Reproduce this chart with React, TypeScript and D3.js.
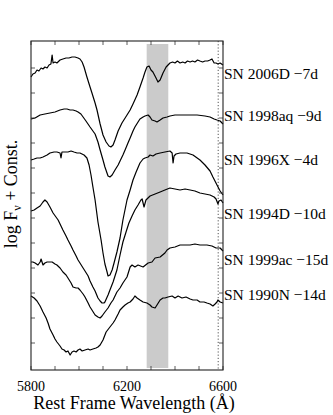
import React from "react";
import * as d3 from "d3";

const W = 333;
const H = 415;

const xTicksMinor = [5800, 5900, 6000, 6100, 6200, 6300, 6400, 6500, 6600];
const xTickLabels = [5800, 6200, 6600];
const yTicks = [0.25, 0.5, 0.75, 1.0, 1.25, 1.5, 1.75, 2.0, 2.25, 2.5, 2.75, 3.0];

const bandRange = [6282, 6372];
const dottedLine = 6580;

const names = [
  "SN 2006D \u22127d",
  "SN 1998aq \u22129d",
  "SN 1996X \u22124d",
  "SN 1994D \u221210d",
  "SN 1999ac \u221215d",
  "SN 1990N \u221214d",
];
const labelY = [2.94, 2.52, 2.08, 1.54, 1.08, 0.73];

const sn2006D: [number, number][] = [
  [5800, 2.91], [5808, 2.94], [5817, 2.95], [5825, 2.98], [5833, 2.97], [5842, 3.0], [5850, 2.99], [5858, 3.01], [5867, 3.0], [5875, 3.03], [5883, 3.04], [5888, 3.13], [5892, 3.05], [5900, 3.06], [5908, 3.05], [5921, 3.08], [5933, 3.09], [5946, 3.1], [5958, 3.1], [5971, 3.11], [5983, 3.11], [5996, 3.1], [6004, 3.09], [6013, 3.06], [6021, 3.01], [6033, 2.91], [6046, 2.81], [6054, 2.75], [6067, 2.65], [6075, 2.58], [6088, 2.44], [6100, 2.33], [6113, 2.26], [6125, 2.22], [6133, 2.21], [6142, 2.23], [6150, 2.28], [6163, 2.37], [6179, 2.45], [6200, 2.53], [6213, 2.58], [6225, 2.64], [6242, 2.73], [6254, 2.81], [6267, 2.9], [6275, 2.96], [6283, 3.01], [6292, 3.02], [6300, 2.98], [6308, 2.96], [6321, 2.9], [6329, 2.86], [6338, 2.88], [6350, 2.95], [6363, 3.01], [6379, 3.05], [6390, 3.06], [6400, 3.05], [6410, 3.07], [6421, 3.05], [6432, 3.06], [6442, 3.05], [6452, 3.07], [6463, 3.06], [6473, 3.07], [6483, 3.06], [6494, 3.08], [6504, 3.07], [6515, 3.06], [6525, 3.07], [6536, 3.07], [6546, 3.08], [6554, 3.09], [6563, 3.05], [6571, 3.05], [6579, 3.04], [6588, 3.05], [6600, 3.03],
];

const sn1998aq: [number, number][] = [
  [5800, 2.49], [5817, 2.5], [5838, 2.53], [5858, 2.54], [5879, 2.55], [5900, 2.56], [5921, 2.58], [5938, 2.59], [5950, 2.59], [5963, 2.58], [5975, 2.58], [5988, 2.57], [5996, 2.56], [6008, 2.54], [6017, 2.51], [6029, 2.47], [6046, 2.41], [6067, 2.34], [6079, 2.26], [6088, 2.18], [6100, 2.08], [6108, 2.01], [6121, 1.92], [6129, 1.91], [6138, 1.93], [6150, 1.98], [6163, 2.03], [6171, 2.07], [6183, 2.13], [6192, 2.18], [6204, 2.25], [6213, 2.3], [6225, 2.37], [6233, 2.41], [6246, 2.46], [6254, 2.49], [6267, 2.51], [6275, 2.52], [6288, 2.53], [6296, 2.51], [6304, 2.48], [6317, 2.47], [6325, 2.46], [6338, 2.48], [6350, 2.5], [6367, 2.51], [6379, 2.52], [6400, 2.53], [6421, 2.53], [6463, 2.53], [6492, 2.53], [6525, 2.52], [6546, 2.51], [6563, 2.49], [6575, 2.48], [6588, 2.47], [6600, 2.44],
];

const sn1996X: [number, number][] = [
  [5800, 2.08], [5813, 2.09], [5825, 2.1], [5838, 2.1], [5850, 2.11], [5867, 2.13], [5879, 2.15], [5896, 2.16], [5908, 2.16], [5921, 2.15], [5925, 2.1], [5929, 2.16], [5942, 2.16], [5954, 2.16], [5967, 2.17], [5979, 2.16], [5992, 2.15], [6004, 2.15], [6021, 2.13], [6033, 2.1], [6042, 2.03], [6050, 1.93], [6058, 1.81], [6067, 1.68], [6079, 1.46], [6092, 1.28], [6100, 1.15], [6108, 1.04], [6117, 0.96], [6121, 0.92], [6129, 0.93], [6138, 0.98], [6146, 1.05], [6158, 1.16], [6171, 1.3], [6183, 1.48], [6200, 1.68], [6213, 1.78], [6225, 1.88], [6238, 1.96], [6254, 2.05], [6267, 2.09], [6275, 2.1], [6288, 2.11], [6296, 2.13], [6308, 2.12], [6321, 2.14], [6338, 2.15], [6358, 2.16], [6379, 2.17], [6388, 2.15], [6392, 2.05], [6396, 2.12], [6404, 2.14], [6421, 2.15], [6450, 2.15], [6475, 2.13], [6504, 2.08], [6525, 2.03], [6546, 1.97], [6558, 1.91], [6575, 1.83], [6588, 1.77], [6600, 1.73],
];

const sn1994D: [number, number][] = [
  [5800, 1.57], [5813, 1.58], [5825, 1.6], [5838, 1.62], [5850, 1.66], [5858, 1.68], [5867, 1.66], [5879, 1.61], [5892, 1.55], [5904, 1.51], [5913, 1.48], [5925, 1.42], [5933, 1.38], [5946, 1.32], [5954, 1.28], [5967, 1.22], [5975, 1.18], [5988, 1.12], [5996, 1.08], [6004, 1.05], [6017, 1.0], [6025, 0.97], [6038, 0.92], [6046, 0.87], [6058, 0.81], [6067, 0.77], [6079, 0.7], [6088, 0.67], [6096, 0.65], [6104, 0.65], [6108, 0.66], [6121, 0.73], [6129, 0.78], [6142, 0.86], [6158, 0.98], [6171, 1.13], [6183, 1.26], [6196, 1.36], [6208, 1.45], [6221, 1.52], [6233, 1.58], [6246, 1.63], [6258, 1.68], [6263, 1.69], [6271, 1.61], [6279, 1.68], [6296, 1.72], [6317, 1.74], [6338, 1.76], [6358, 1.78], [6379, 1.8], [6400, 1.79], [6421, 1.78], [6442, 1.79], [6463, 1.78], [6483, 1.77], [6504, 1.75], [6525, 1.74], [6546, 1.73], [6563, 1.71], [6571, 1.69], [6579, 1.64], [6583, 1.67], [6592, 1.68], [6600, 1.65],
];

const sn1999ac: [number, number][] = [
  [5800, 1.06], [5808, 1.06], [5817, 1.05], [5829, 1.03], [5838, 1.06], [5842, 1.09], [5850, 1.03], [5858, 1.05], [5867, 1.06], [5879, 1.06], [5888, 1.06], [5900, 1.04], [5908, 1.03], [5921, 1.0], [5933, 0.96], [5946, 0.93], [5954, 0.9], [5967, 0.85], [5975, 0.81], [5988, 0.8], [5996, 0.8], [6004, 0.78], [6017, 0.74], [6025, 0.71], [6038, 0.65], [6046, 0.61], [6054, 0.58], [6067, 0.53], [6079, 0.51], [6088, 0.5], [6096, 0.52], [6108, 0.56], [6121, 0.6], [6133, 0.65], [6142, 0.68], [6158, 0.76], [6171, 0.8], [6183, 0.85], [6200, 0.91], [6213, 1.01], [6221, 1.03], [6233, 1.01], [6246, 1.03], [6267, 1.01], [6288, 1.05], [6304, 1.06], [6317, 1.1], [6338, 1.11], [6358, 1.15], [6367, 1.18], [6379, 1.2], [6400, 1.21], [6421, 1.23], [6442, 1.23], [6463, 1.23], [6483, 1.24], [6504, 1.23], [6533, 1.23], [6554, 1.22], [6571, 1.2], [6588, 1.2], [6600, 1.17],
];

const sn1990N: [number, number][] = [
  [5800, 0.72], [5813, 0.7], [5825, 0.67], [5838, 0.62], [5850, 0.56], [5863, 0.5], [5871, 0.45], [5879, 0.39], [5892, 0.33], [5900, 0.29], [5908, 0.26], [5921, 0.22], [5929, 0.19], [5938, 0.18], [5946, 0.16], [5954, 0.17], [5963, 0.13], [5971, 0.16], [5979, 0.17], [5988, 0.16], [5996, 0.18], [6004, 0.19], [6013, 0.17], [6025, 0.18], [6038, 0.19], [6046, 0.18], [6058, 0.19], [6071, 0.2], [6079, 0.21], [6088, 0.23], [6100, 0.28], [6113, 0.36], [6129, 0.41], [6142, 0.45], [6150, 0.48], [6163, 0.54], [6171, 0.58], [6183, 0.61], [6192, 0.63], [6204, 0.65], [6213, 0.66], [6225, 0.69], [6233, 0.72], [6242, 0.7], [6254, 0.68], [6267, 0.66], [6283, 0.65], [6296, 0.63], [6304, 0.61], [6317, 0.6], [6325, 0.63], [6338, 0.68], [6350, 0.7], [6358, 0.7], [6371, 0.71], [6388, 0.72], [6400, 0.7], [6413, 0.72], [6429, 0.7], [6446, 0.71], [6463, 0.69], [6475, 0.68], [6492, 0.68], [6504, 0.66], [6521, 0.66], [6533, 0.65], [6546, 0.64], [6558, 0.62], [6567, 0.64], [6575, 0.66], [6579, 0.68], [6588, 0.66], [6600, 0.65],
];

const spectra = [sn2006D, sn1998aq, sn1996X, sn1994D, sn1999ac, sn1990N];

const FONT = "'Liberation Serif', 'DejaVu Serif', serif";

export default function App() {
  const x0 = 31;
  const x1 = 223;
  const yTop = 41;
  const yBot = 370;
  const xs = d3.scaleLinear().domain([5800, 6600]).range([x0, x1]);
  const y = d3.scaleLinear().domain([-0.02, 3.27]).range([yBot, yTop]);
  const line = d3
    .line<[number, number]>()
    .x((d) => xs(d[0]))
    .y((d) => y(d[1]));
  const tl = 4;
  return (
    <div style={{ position: "fixed", left: 0, top: 0 }}>
      <svg width={W} height={H} style={{ display: "block", background: "#fff" }}>
        <rect
          x={xs(bandRange[0])}
          y={y(3.24)}
          width={xs(bandRange[1]) - xs(bandRange[0])}
          height={y(0.0) - y(3.24)}
          fill="#cbcbcb"
        />
        <line
          x1={xs(dottedLine)}
          x2={xs(dottedLine)}
          y1={yTop}
          y2={yBot}
          stroke="#555"
          strokeWidth={1}
          strokeDasharray="1.2,2"
        />
        {spectra.map((s, i) => (
          <path key={i} d={line(s) || ""} fill="none" stroke="#000" strokeWidth={1.2} strokeLinejoin="round" />
        ))}
        {xTicksMinor.map((t) => (
          <g key={"xt" + t}>
            <line x1={xs(t)} x2={xs(t)} y1={yTop} y2={yTop + tl} stroke="#333" strokeWidth={0.8} />
            <line x1={xs(t)} x2={xs(t)} y1={yBot} y2={yBot - tl} stroke="#333" strokeWidth={0.8} />
          </g>
        ))}
        {yTicks.map((t) => (
          <g key={"yt" + t}>
            <line x1={x0} x2={x0 + tl} y1={y(t)} y2={y(t)} stroke="#333" strokeWidth={0.8} />
            <line x1={x1} x2={x1 - tl} y1={y(t)} y2={y(t)} stroke="#333" strokeWidth={0.8} />
          </g>
        ))}
        <rect x={x0} y={yTop} width={x1 - x0} height={yBot - yTop} fill="none" stroke="#222" strokeWidth={1.1} />
        {xTickLabels.map((t) => (
          <text key={"xl" + t} x={xs(t)} y={391} textAnchor="middle" fontFamily={FONT} fontSize={14} fill="#000">
            {t}
          </text>
        ))}
        <text x={134} y={409} textAnchor="middle" fontFamily={FONT} fontSize={18} fill="#000">
          Rest Frame Wavelength (Å)
        </text>
        <text
          transform={`translate(17,194) rotate(-90)`}
          textAnchor="middle"
          fontFamily={FONT}
          fontSize={18}
          fill="#000"
        >
          log F<tspan fontSize={12} dy={4}>ν</tspan>
          <tspan dy={-4}> + Const.</tspan>
        </text>
        {names.map((n, i) => (
          <text key={n} x={224} y={y(labelY[i]) + 5} fontFamily={FONT} fontSize={15.5} fill="#000">
            {n}
          </text>
        ))}
      </svg>
    </div>
  );
}
